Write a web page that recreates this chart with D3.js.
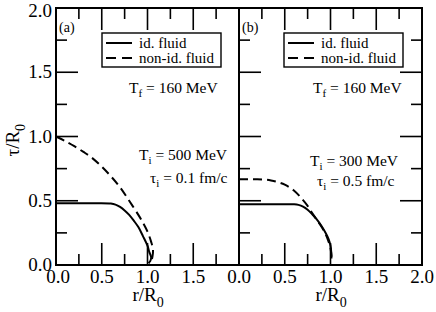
<!DOCTYPE html>
<html>
<head>
<meta charset="utf-8">
<script src="https://cdn.jsdelivr.net/npm/d3@7"></script>
<style>
  body { margin: 0; background: #fff; }
</style>
</head>
<body>
<div id="chart"></div>
<script>
// panel (a): T_i = 500 MeV, tau_i = 0.1 fm/c
const idealA_r = [0, 0.2, 0.4, 0.6, 0.65, 0.7, 0.75, 0.8, 0.85, 0.9, 0.95, 1.0, 1.02, 1.04, 1.03, 1.01];
const idealA_t = [0.48, 0.48, 0.48, 0.478, 0.47, 0.452, 0.425, 0.39, 0.345, 0.295, 0.225, 0.15, 0.1, 0.06, 0.03, 0.015];
const nonIdealA_r = [0, 0.1, 0.2, 0.3, 0.4, 0.5, 0.6, 0.7, 0.8, 0.9, 0.95, 1.0, 1.04, 1.06, 1.055, 1.04, 1.02];
const nonIdealA_t = [1.0, 0.965, 0.925, 0.88, 0.83, 0.765, 0.69, 0.605, 0.5, 0.39, 0.33, 0.26, 0.18, 0.12, 0.07, 0.03, 0.01];

// panel (b): T_i = 300 MeV, tau_i = 0.5 fm/c
const idealB_r = [0, 0.3, 0.6, 0.65, 0.7, 0.75, 0.8, 0.85, 0.9, 0.95, 0.98, 1.0, 1.01, 1.01];
const idealB_t = [0.472, 0.472, 0.472, 0.468, 0.455, 0.43, 0.395, 0.355, 0.305, 0.245, 0.2, 0.15, 0.08, 0.05];
const nonIdealB_r = [0, 0.1, 0.2, 0.3, 0.35, 0.4, 0.5, 0.6, 0.7, 0.75, 0.8, 0.85, 0.9, 0.95, 0.98, 1.0, 1.01, 1.01];
const nonIdealB_t = [0.668, 0.668, 0.667, 0.663, 0.658, 0.65, 0.625, 0.58, 0.505, 0.46, 0.405, 0.35, 0.3, 0.235, 0.18, 0.13, 0.07, 0.045];

const majorTicks = [0, 0.5, 1.0, 1.5, 2.0];
const minorTicks = [0.25, 0.75, 1.25, 1.75];
const tickLabels = ["0.0", "0.5", "1.0", "1.5", "2.0"];
const legendNames = ["id. fluid", "non-id. fluid"];

const width = 436, height = 312;
const svg = d3.select("#chart").append("svg")
  .attr("width", width)
  .attr("height", height)
  .attr("font-family", "'Liberation Serif', Tinos, 'Times New Roman', Times, 'Nimbus Roman', 'Noto Serif', 'DejaVu Serif', serif");

const y = d3.scaleLinear().domain([0, 2]).range([265, 8]);
const xA = d3.scaleLinear().domain([0, 2]).range([56, 239]);
const xB = d3.scaleLinear().domain([0, 2]).range([239, 422]);

const toPts = (rs, ts) => rs.map((r, i) => ({ r: r, t: ts[i] }));

function drawPanel(x, opts) {
  const g = svg.append("g");
  const x0 = x.range()[0], x1 = x.range()[1];
  const y0 = y.range()[0], y1 = y.range()[1];

  // curves
  const lineC = d3.line().x(d => x(d.r)).y(d => y(d.t)).curve(d3.curveCatmullRom.alpha(0.5));
  g.append("path")
    .attr("d", lineC(opts.ideal))
    .attr("fill", "none").attr("stroke", "#000").attr("stroke-width", 2);
  g.append("path")
    .attr("d", lineC(opts.nonIdeal))
    .attr("fill", "none").attr("stroke", "#000").attr("stroke-width", 2)
    .attr("stroke-dasharray", "9,5");

  // ticks (inward, mirrored)
  const tk = g.append("g").attr("stroke", "#000").attr("stroke-width", 1.6);
  const all = majorTicks.map(v => ({ v: v, len: 22 })).concat(minorTicks.map(v => ({ v: v, len: 11 })));
  all.forEach(d => {
    if (d.v > 0 && d.v < 2) {
      tk.append("line").attr("x1", x(d.v)).attr("x2", x(d.v)).attr("y1", y0).attr("y2", y0 - d.len);
      tk.append("line").attr("x1", x(d.v)).attr("x2", x(d.v)).attr("y1", y1).attr("y2", y1 + d.len);
      tk.append("line").attr("x1", x0).attr("x2", x0 + d.len).attr("y1", y(d.v)).attr("y2", y(d.v));
      if (opts.rightTicks)
        tk.append("line").attr("x1", x1).attr("x2", x1 - d.len).attr("y1", y(d.v)).attr("y2", y(d.v));
    }
  });

  // frame
  g.append("rect")
    .attr("x", x0).attr("y", y1)
    .attr("width", x1 - x0).attr("height", y0 - y1)
    .attr("fill", "none").attr("stroke", "#000").attr("stroke-width", 2);

  // x tick labels
  majorTicks.forEach((v, i) => {
    if (v === 2 && !opts.lastLabel) return;
    g.append("text")
      .attr("x", x(v) + (v === 0 && !opts.lastLabel ? 2 : 0)).attr("y", 283)
      .attr("text-anchor", "middle")
      .attr("font-size", 19)
      .text(tickLabels[i]);
  });

  // x title
  const xt = g.append("text")
    .attr("x", x(1.0) - 15).attr("y", 301)
    .attr("font-size", 19);
  xt.append("tspan").text("r/R");
  xt.append("tspan").attr("dy", 6).attr("font-size", 14).text("0");

  // panel label
  g.append("text").attr("x", x0 + 3).attr("y", 32).attr("font-size", 14).text(opts.label);

  // legend
  const lx = opts.legendX;
  g.append("rect")
    .attr("x", lx).attr("y", 33).attr("width", 119).attr("height", 34)
    .attr("fill", "#fff").attr("stroke", "#000").attr("stroke-width", 1.4);
  g.append("line").attr("x1", lx + 4).attr("x2", lx + 30).attr("y1", 43).attr("y2", 43)
    .attr("stroke", "#000").attr("stroke-width", 2);
  g.append("line").attr("x1", lx + 4).attr("x2", lx + 30).attr("y1", 58).attr("y2", 58)
    .attr("stroke", "#000").attr("stroke-width", 2).attr("stroke-dasharray", "10,6");
  g.append("text").attr("x", lx + 37).attr("y", 47.5).attr("font-size", 15).text(legendNames[0]);
  g.append("text").attr("x", lx + 37).attr("y", 62.5).attr("font-size", 15).text(legendNames[1]);

  // annotations
  function sub(xp, yp, main, s, rest) {
    const t = g.append("text").attr("x", xp).attr("y", yp).attr("font-size", 15.5);
    t.append("tspan").text(main);
    t.append("tspan").attr("dy", 4).attr("font-size", 11).text(s);
    t.append("tspan").attr("dy", -4).text(rest);
  }
  sub(opts.tf[0], opts.tf[1], "T", "f", " = 160 MeV");
  sub(opts.ti[0], opts.ti[1], "T", "i", " = " + opts.tiText);
  sub(opts.taui[0], opts.taui[1], "\u03c4", "i", " = " + opts.tauText);
}

drawPanel(xA, {
  ideal: toPts(idealA_r, idealA_t),
  nonIdeal: toPts(nonIdealA_r, nonIdealA_t),
  label: "(a)", legendX: 102, rightTicks: false, lastLabel: false,
  tf: [129, 93], ti: [139, 160], taui: [150, 183],
  tiText: "500 MeV", tauText: "0.1 fm/c"
});
drawPanel(xB, {
  ideal: toPts(idealB_r, idealB_t),
  nonIdeal: toPts(nonIdealB_r, nonIdealB_t),
  label: "(b)", legendX: 284, rightTicks: true, lastLabel: true,
  tf: [313, 93], ti: [310, 166], taui: [317, 186],
  tiText: "300 MeV", tauText: "0.5 fm/c"
});

// y tick labels
majorTicks.forEach((v, i) => {
  svg.append("text")
    .attr("x", 52).attr("y", y(v) + (v === 2 ? 9 : 6))
    .attr("text-anchor", "end")
    .attr("font-size", 19)
    .text(tickLabels[i]);
});

// y title
const yt = svg.append("text")
  .attr("transform", `translate(19, ${y(1.0) + 20}) rotate(-90)`)
  .attr("font-size", 19);
yt.append("tspan").text("\u03c4/R");
yt.append("tspan").attr("dy", 6).attr("font-size", 14).text("0");
</script>
</body>
</html>
